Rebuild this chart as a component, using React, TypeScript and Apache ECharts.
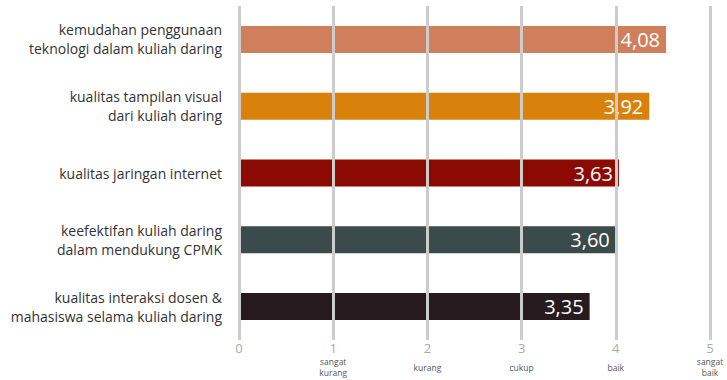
import React, { useEffect, useRef } from "react";
import * as echarts from "echarts";

const categories = [
  "kemudahan penggunaan\nteknologi dalam kuliah daring",
  "kualitas tampilan visual\ndari kuliah daring",
  "kualitas jaringan internet",
  "keefektifan kuliah daring\ndalam mendukung CPMK",
  "kualitas interaksi dosen &\nmahasiswa selama kuliah daring",
];
const values = [4.08, 3.92, 3.63, 3.6, 3.35];
const barColors = ["#cf7f5c", "#d8820b", "#8b0a02", "#3b4a4a", "#281b20"];
const tickValues = ["0", "1", "2", "3", "4", "5"];
const tickNames = ["", "sangat\nkurang", "kurang", "cukup", "baik", "sangat\nbaik"];

const FONT = "'Open Sans', 'Noto Sans', sans-serif";

export default function App() {
  const ref = useRef<HTMLDivElement>(null);
  useEffect(() => {
    if (!ref.current) return;
    const chart = echarts.init(ref.current, undefined, { renderer: "svg" });
    chart.setOption({
      animation: false,
      grid: { left: 239, right: 17, top: 6, bottom: 40 },
      xAxis: [
        {
          type: "value",
          min: 0,
          max: 5,
          interval: 1,
          position: "bottom",
          z: 5,
          axisLine: { show: false },
          axisTick: { show: false },
          splitLine: { show: true, lineStyle: { color: "#cccccc", width: 3 } },
          axisLabel: {
            color: "#aaaaaa",
            fontSize: 13,
            lineHeight: 12,
            fontFamily: FONT,
            margin: 2,
            formatter: (v: number) => tickValues[Math.round(v)] ?? "",
          },
        },
        {
          type: "value",
          min: 0,
          max: 5,
          interval: 1,
          position: "bottom",
          axisLine: { show: false },
          axisTick: { show: false },
          splitLine: { show: false },
          axisLabel: {
            color: "#555555",
            fontSize: 8.5,
            lineHeight: 11,
            fontFamily: FONT,
            margin: 27,
            verticalAlign: "middle",
            formatter: (v: number) => tickNames[Math.round(v)] ?? "",
          },
        },
        {
          type: "value",
          min: 0,
          max: 4.5,
          show: false,
          splitLine: { show: false },
        },
      ],
      yAxis: {
        type: "category",
        data: categories,
        inverse: true,
        axisLine: { show: false },
        axisTick: { show: false },
        splitLine: { show: false },
        axisLabel: {
          color: "#333333",
          fontSize: 14,
          lineHeight: 19,
          fontFamily: FONT,
          margin: 17,
          align: "right",
        },
      },
      series: [
        {
          type: "bar",
          xAxisIndex: 2,
          data: values.map((v, i) => ({ value: v, itemStyle: { color: barColors[i] } })),
          barWidth: 27,
          label: {
            show: true,
            position: "insideRight",
            distance: 6,
            color: "#ffffff",
            fontSize: 20,
            fontFamily: FONT,
            formatter: (p: any) => p.value.toFixed(2).replace(".", ","),
          },
        },
      ],
    });
    return () => chart.dispose();
  }, []);
  return <div ref={ref} style={{ width: 727, height: 380, position: "absolute", left: 0, top: 0 }} />;
}
